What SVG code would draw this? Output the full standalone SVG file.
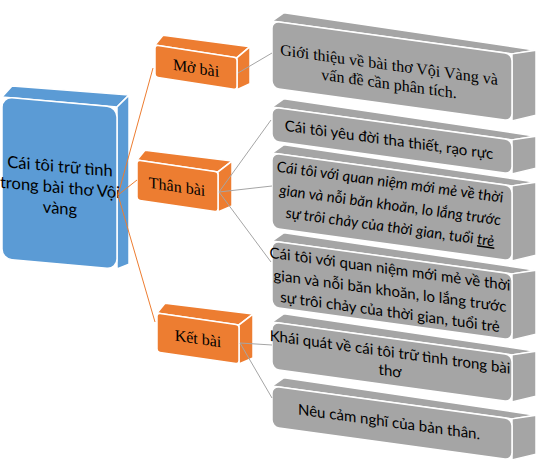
<svg xmlns="http://www.w3.org/2000/svg" width="540" height="470" viewBox="0 0 540 470">
<style>
.g{fill:#A5A5A5;stroke:#fff;stroke-width:1.5}
.o{fill:#ED7D31;stroke:#fff;stroke-width:1.5}
.b{fill:#5B9BD5;stroke:#fff;stroke-width:1.5}
.ts{font-family:"Liberation Serif","Times New Roman",serif;font-size:16px;fill:#000;text-anchor:middle}
.tn{font-family:Lato,"Liberation Sans",sans-serif;font-size:15px;fill:#000;text-anchor:middle}
.tb{font-size:16.5px}
.ti{font-style:italic}
.u{text-decoration:underline}
.co{stroke:#ED7D31;stroke-width:1;fill:none}
.cg{stroke:#A5A5A5;stroke-width:1;fill:none}
</style>
<rect width="540" height="470" fill="#fff"/>

<g id="n-root" transform="translate(2,97) skewY(5)">
  <polygon class="b" points="0,0 115,0 127,-13 10,-12"/>
  <polygon class="b" points="115,0 127,-13 127,156 115,162"/>
  <rect class="b" x="0" y="0" width="115" height="162" rx="10"/>
  <text class="tn tb" x="58" y="70">Cái tôi trữ tình</text>
  <text class="tn tb" x="58" y="91">trong bài thơ Vội</text>
  <text class="tn tb" x="58" y="112">vàng</text>
</g>

<g id="n-mo-bai" transform="translate(155,45) skewY(8.8)">
  <polygon class="o" points="0,0 82,0 95,-13 8,-11"/>
  <polygon class="o" points="82,0 95,-13 95,24 82,32"/>
  <rect class="o" x="0" y="0" width="82" height="32" rx="3"/>
  <text class="ts" x="41" y="22">Mở bài</text>
</g>

<g id="n-than-bai" transform="translate(137,160) skewY(8.4)">
  <polygon class="o" points="0,0 81,0 95,-13 8,-11"/>
  <polygon class="o" points="81,0 95,-13 95,32 81,40"/>
  <rect class="o" x="0" y="0" width="81" height="40" rx="3"/>
  <text class="ts" x="40" y="26">Thân bài</text>
</g>

<g id="n-ket-bai" transform="translate(157,313) skewY(8.3)">
  <polygon class="o" points="0,0 82,0 96,-13 8,-11"/>
  <polygon class="o" points="82,0 96,-13 96,31 82,39"/>
  <rect class="o" x="0" y="0" width="82" height="39" rx="3"/>
  <text class="ts" x="41" y="25">Kết bài</text>
</g>

<g id="n-gioi-thieu" transform="translate(272,21) skewY(7.8)">
  <polygon class="g" points="0,0 240,0 264,-7 12,-10"/>
  <polygon class="g" points="240,0 264,-7 264,58 240,67"/>
  <rect class="g" x="0" y="0" width="240" height="67" rx="7"/>
  <text class="ts" x="117" y="33">Giới thiệu về bài thơ Vội Vàng và</text>
  <text class="ts" x="117" y="52">vấn đề cần phân tích.</text>
</g>

<g id="n-yeu-doi" transform="translate(272,107) skewY(7.8)">
  <polygon class="g" points="0,0 240,0 264,-7 12,-10"/>
  <polygon class="g" points="240,0 264,-7 264,25 240,34"/>
  <rect class="g" x="0" y="0" width="240" height="34" rx="7"/>
  <text class="tn" x="117" y="22">Cái tôi yêu đời tha thiết, rạo rực</text>
</g>

<g id="n-quan-niem-1" transform="translate(272,153) skewY(7.8)">
  <polygon class="g" points="0,0 240,0 264,-7 12,-10"/>
  <polygon class="g" points="240,0 264,-7 264,66 240,75"/>
  <rect class="g" x="0" y="0" width="240" height="75" rx="7"/>
  <text class="tn ti" x="118" y="18">Cái tôi với quan niệm mới mẻ về thời</text>
  <text class="tn ti" x="118" y="41">gian và nỗi băn khoăn, lo lắng trước</text>
  <text class="tn ti" x="118" y="63">sự trôi chảy của thời gian, tuổi <tspan class="u">trẻ</tspan></text>
</g>

<g id="n-quan-niem-2" transform="translate(272,241) skewY(7.8)">
  <polygon class="g" points="0,0 240,0 264,-7 12,-10"/>
  <polygon class="g" points="240,0 264,-7 264,57 240,66"/>
  <rect class="g" x="0" y="0" width="240" height="66" rx="7"/>
  <text class="tn" x="118" y="17">Cái tôi với quan niệm mới mẻ về thời</text>
  <text class="tn" x="118" y="39">gian và nỗi băn khoăn, lo lắng trước</text>
  <text class="tn" x="118" y="60">sự trôi chảy của thời gian, tuổi trẻ</text>
</g>

<g id="n-khai-quat" transform="translate(272,322) skewY(7.8)">
  <polygon class="g" points="0,0 240,0 264,-7 12,-10"/>
  <polygon class="g" points="240,0 264,-7 264,38 240,47"/>
  <rect class="g" x="0" y="0" width="240" height="47" rx="7"/>
  <text class="tn" x="118" y="19">Khái quát về cái tôi trữ tình trong bài</text>
  <text class="tn" x="118" y="38">thơ</text>
</g>

<g id="n-cam-nghi" transform="translate(272,386) skewY(7.8)">
  <polygon class="g" points="0,0 240,0 264,-7 12,-10"/>
  <polygon class="g" points="240,0 264,-7 264,32 240,41"/>
  <rect class="g" x="0" y="0" width="240" height="41" rx="7"/>
  <text class="tn" x="117" y="25">Nêu cảm nghĩ của bản thân.</text>
</g>

<g id="connectors">
  <line class="co" x1="118" y1="195" x2="153" y2="68"/>
  <line class="co" x1="118" y1="195" x2="137" y2="180"/>
  <line class="co" x1="118" y1="195" x2="155" y2="322"/>
  <line class="cg" x1="238" y1="73" x2="272" y2="53"/>
  <line class="cg" x1="219" y1="192" x2="271" y2="120"/>
  <line class="cg" x1="219" y1="192" x2="272" y2="186"/>
  <line class="cg" x1="219" y1="192" x2="271" y2="262"/>
  <line class="cg" x1="240" y1="343" x2="272" y2="345"/>
  <line class="cg" x1="240" y1="343" x2="272" y2="398"/>
</g>
</svg>
